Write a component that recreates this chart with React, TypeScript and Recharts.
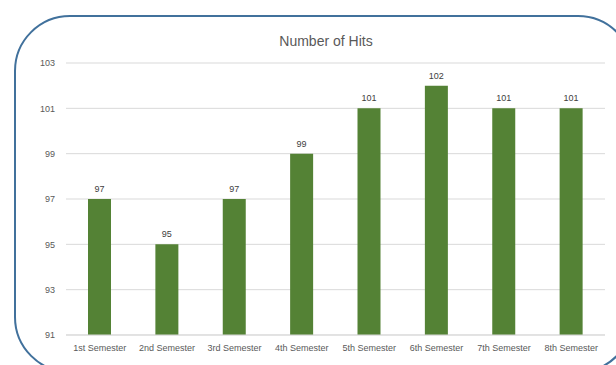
import React from 'react';
import { BarChart, Bar, XAxis, YAxis, CartesianGrid, LabelList } from 'recharts';

const semesters = [
  '1st Semester',
  '2nd Semester',
  '3rd Semester',
  '4th Semester',
  '5th Semester',
  '6th Semester',
  '7th Semester',
  '8th Semester',
];
const hits = [97, 95, 97, 99, 101, 102, 101, 101];
const yTicks = [91, 93, 95, 97, 99, 101, 103];

const data = semesters.map((name, i) => ({ name, hits: hits[i] }));

const font = '"Liberation Sans", Arial, sans-serif';

const App: React.FC = () => {
  return (
    <div
      style={{
        position: 'absolute',
        left: 0,
        top: 0,
        width: 616,
        height: 365,
        overflow: 'hidden',
        background: '#fff',
        fontFamily: font,
      }}
    >
      {/* rounded frame, runs past the right and bottom edges */}
      <div
        style={{
          position: 'absolute',
          left: 14,
          top: 15,
          width: 616,
          height: 354,
          border: '2px solid #41719C',
          borderRadius: 56,
        }}
      />
      <div
        style={{
          position: 'absolute',
          left: 0,
          top: 33,
          width: 652,
          textAlign: 'center',
          fontSize: 14,
          color: '#595959',
        }}
      >
        Number of Hits
      </div>
      <div style={{ position: 'absolute', left: 0, top: 0 }}>
        <BarChart
          width={616}
          height={365}
          data={data}
          margin={{ top: 63, right: 11, left: 0, bottom: 0 }}
        >
          <CartesianGrid vertical={false} stroke="#d9d9d9" />
          <XAxis
            dataKey="name"
            height={30}
            tickLine={false}
            axisLine={{ stroke: '#d9d9d9' }}
            tick={{ fontSize: 9, fill: '#595959', fontFamily: font }}
            tickMargin={4}
            interval={0}
          />
          <YAxis
            width={66}
            domain={[91, 103]}
            ticks={yTicks}
            tickLine={false}
            axisLine={false}
            tick={{ fontSize: 9, fill: '#595959', fontFamily: font }}
            tickMargin={5}
          />
          <Bar dataKey="hits" fill="#548235" barSize={23} isAnimationActive={false}>
            <LabelList
              dataKey="hits"
              position="top"
              offset={7}
              style={{ fontSize: 9, fill: '#404040', fontFamily: font }}
            />
          </Bar>
        </BarChart>
      </div>
    </div>
  );
};

export default App;
